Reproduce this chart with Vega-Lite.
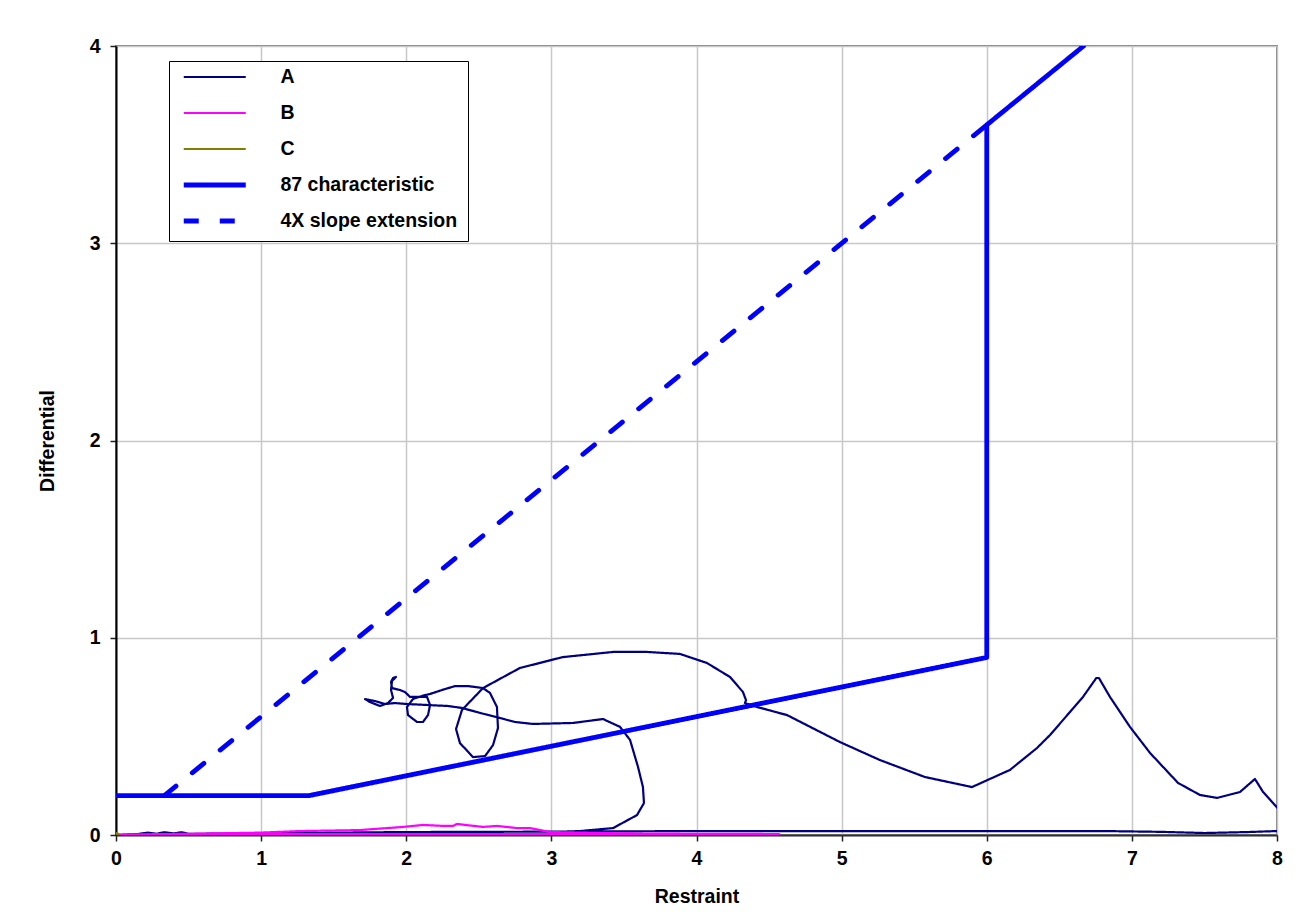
{
  "$schema": "https://vega.github.io/schema/vega-lite/v6.json",
  "width": 1161,
  "height": 789,
  "autosize": {"type": "none"},
  "padding": {"left": 116, "top": 46, "right": 27, "bottom": 77},
  "background": "white",
  "config": {
    "font": "Liberation Sans",
    "view": {"stroke": "#808080", "strokeWidth": 2},
    "axis": {
      "labelFont": "Liberation Sans",
      "labelFontSize": 19.5,
      "labelFontWeight": "bold",
      "labelColor": "black",
      "titleFont": "Liberation Sans",
      "titleFontSize": 19.5,
      "titleFontWeight": "bold",
      "titleColor": "black",
      "tickColor": "#202020",
      "tickSize": 6,
      "tickWidth": 1.5,
      "gridColor": "#c8c8c8",
      "gridWidth": 1.5,
      "domainWidth": 2,
      "labelFlush": false,
      "labelOverlap": false,
      "format": "d"
    }
  },
  "datasets": {
    "traces": [
      {"series": "A", "restraint": 0, "differential": 0},
      {"series": "A", "restraint": 0.15, "differential": 0.005},
      {"series": "A", "restraint": 0.22, "differential": 0.012},
      {"series": "A", "restraint": 0.28, "differential": 0.006},
      {"series": "A", "restraint": 0.33, "differential": 0.014},
      {"series": "A", "restraint": 0.4, "differential": 0.008},
      {"series": "A", "restraint": 0.45, "differential": 0.014},
      {"series": "A", "restraint": 0.5, "differential": 0.006},
      {"series": "A", "restraint": 1.0, "differential": 0.008},
      {"series": "A", "restraint": 1.5, "differential": 0.012},
      {"series": "A", "restraint": 2.0, "differential": 0.015},
      {"series": "A", "restraint": 3.0, "differential": 0.017},
      {"series": "A", "restraint": 4.0, "differential": 0.02},
      {"series": "A", "restraint": 5.0, "differential": 0.02},
      {"series": "A", "restraint": 6.0, "differential": 0.02},
      {"series": "A", "restraint": 6.8, "differential": 0.02},
      {"series": "A", "restraint": 7.2, "differential": 0.016},
      {"series": "A", "restraint": 7.5, "differential": 0.01},
      {"series": "A", "restraint": 7.8, "differential": 0.015},
      {"series": "A", "restraint": 8.0, "differential": 0.02},
      {"series": "A", "restraint": 8.3, "differential": 0.02},
      {"series": "A", "restraint": 8.25, "differential": -0.05},
      {"series": "A", "restraint": 8.0, "differential": 0.14},
      {"series": "A", "restraint": 7.904, "differential": 0.218},
      {"series": "A", "restraint": 7.848, "differential": 0.284},
      {"series": "A", "restraint": 7.745, "differential": 0.218},
      {"series": "A", "restraint": 7.587, "differential": 0.188},
      {"series": "A", "restraint": 7.469, "differential": 0.203},
      {"series": "A", "restraint": 7.318, "differential": 0.264},
      {"series": "A", "restraint": 7.125, "differential": 0.416},
      {"series": "A", "restraint": 6.987, "differential": 0.548},
      {"series": "A", "restraint": 6.849, "differential": 0.7},
      {"series": "A", "restraint": 6.773, "differential": 0.796},
      {"series": "A", "restraint": 6.755, "differential": 0.796},
      {"series": "A", "restraint": 6.663, "differential": 0.7},
      {"series": "A", "restraint": 6.574, "differential": 0.624},
      {"series": "A", "restraint": 6.436, "differential": 0.507},
      {"series": "A", "restraint": 6.346, "differential": 0.441},
      {"series": "A", "restraint": 6.16, "differential": 0.33},
      {"series": "A", "restraint": 5.898, "differential": 0.243},
      {"series": "A", "restraint": 5.574, "differential": 0.294},
      {"series": "A", "restraint": 5.264, "differential": 0.38},
      {"series": "A", "restraint": 4.989, "differential": 0.471},
      {"series": "A", "restraint": 4.624, "differential": 0.608},
      {"series": "A", "restraint": 4.417, "differential": 0.649},
      {"series": "A", "restraint": 4.334, "differential": 0.669},
      {"series": "A", "restraint": 4.341, "differential": 0.684},
      {"series": "A", "restraint": 4.32, "differential": 0.725},
      {"series": "A", "restraint": 4.231, "differential": 0.801},
      {"series": "A", "restraint": 4.072, "differential": 0.872},
      {"series": "A", "restraint": 3.886, "differential": 0.918},
      {"series": "A", "restraint": 3.659, "differential": 0.928},
      {"series": "A", "restraint": 3.425, "differential": 0.928},
      {"series": "A", "restraint": 3.08, "differential": 0.902},
      {"series": "A", "restraint": 2.784, "differential": 0.847},
      {"series": "A", "restraint": 2.529, "differential": 0.745},
      {"series": "A", "restraint": 2.384, "differential": 0.634},
      {"series": "A", "restraint": 2.343, "differential": 0.537},
      {"series": "A", "restraint": 2.37, "differential": 0.466},
      {"series": "A", "restraint": 2.46, "differential": 0.395},
      {"series": "A", "restraint": 2.543, "differential": 0.4},
      {"series": "A", "restraint": 2.598, "differential": 0.456},
      {"series": "A", "restraint": 2.632, "differential": 0.542},
      {"series": "A", "restraint": 2.625, "differential": 0.649},
      {"series": "A", "restraint": 2.577, "differential": 0.72},
      {"series": "A", "restraint": 2.529, "differential": 0.745},
      {"series": "A", "restraint": 2.426, "differential": 0.755},
      {"series": "A", "restraint": 2.336, "differential": 0.755},
      {"series": "A", "restraint": 2.246, "differential": 0.735},
      {"series": "A", "restraint": 2.164, "differential": 0.715},
      {"series": "A", "restraint": 2.109, "differential": 0.705},
      {"series": "A", "restraint": 2.047, "differential": 0.69},
      {"series": "A", "restraint": 2.005, "differential": 0.649},
      {"series": "A", "restraint": 2.012, "differential": 0.608},
      {"series": "A", "restraint": 2.074, "differential": 0.573},
      {"series": "A", "restraint": 2.115, "differential": 0.573},
      {"series": "A", "restraint": 2.15, "differential": 0.608},
      {"series": "A", "restraint": 2.164, "differential": 0.659},
      {"series": "A", "restraint": 2.143, "differential": 0.7},
      {"series": "A", "restraint": 2.081, "differential": 0.7},
      {"series": "A", "restraint": 2.026, "differential": 0.7},
      {"series": "A", "restraint": 1.991, "differential": 0.725},
      {"series": "A", "restraint": 1.957, "differential": 0.735},
      {"series": "A", "restraint": 1.902, "differential": 0.745},
      {"series": "A", "restraint": 1.895, "differential": 0.776},
      {"series": "A", "restraint": 1.909, "differential": 0.796},
      {"series": "A", "restraint": 1.929, "differential": 0.801},
      {"series": "A", "restraint": 1.902, "differential": 0.781},
      {"series": "A", "restraint": 1.895, "differential": 0.735},
      {"series": "A", "restraint": 1.909, "differential": 0.695},
      {"series": "A", "restraint": 1.874, "differential": 0.669},
      {"series": "A", "restraint": 1.819, "differential": 0.654},
      {"series": "A", "restraint": 1.75, "differential": 0.674},
      {"series": "A", "restraint": 1.716, "differential": 0.689},
      {"series": "A", "restraint": 1.785, "differential": 0.679},
      {"series": "A", "restraint": 1.854, "differential": 0.664},
      {"series": "A", "restraint": 1.922, "differential": 0.669},
      {"series": "A", "restraint": 2.005, "differential": 0.664},
      {"series": "A", "restraint": 2.288, "differential": 0.654},
      {"series": "A", "restraint": 2.384, "differential": 0.644},
      {"series": "A", "restraint": 2.508, "differential": 0.619},
      {"series": "A", "restraint": 2.646, "differential": 0.593},
      {"series": "A", "restraint": 2.749, "differential": 0.573},
      {"series": "A", "restraint": 2.873, "differential": 0.563},
      {"series": "A", "restraint": 3.149, "differential": 0.568},
      {"series": "A", "restraint": 3.356, "differential": 0.588},
      {"series": "A", "restraint": 3.473, "differential": 0.548},
      {"series": "A", "restraint": 3.542, "differential": 0.482},
      {"series": "A", "restraint": 3.597, "differential": 0.345},
      {"series": "A", "restraint": 3.631, "differential": 0.243},
      {"series": "A", "restraint": 3.638, "differential": 0.162},
      {"series": "A", "restraint": 3.59, "differential": 0.101},
      {"series": "A", "restraint": 3.425, "differential": 0.035},
      {"series": "A", "restraint": 3.197, "differential": 0.02},
      {"series": "A", "restraint": 2.99, "differential": 0.015},
      {"series": "B", "restraint": 0, "differential": 0.002},
      {"series": "B", "restraint": 0.5, "differential": 0.006},
      {"series": "B", "restraint": 0.99, "differential": 0.012},
      {"series": "B", "restraint": 1.27, "differential": 0.02},
      {"series": "B", "restraint": 1.68, "differential": 0.025},
      {"series": "B", "restraint": 1.98, "differential": 0.041},
      {"series": "B", "restraint": 2.115, "differential": 0.051},
      {"series": "B", "restraint": 2.253, "differential": 0.046},
      {"series": "B", "restraint": 2.322, "differential": 0.046},
      {"series": "B", "restraint": 2.35, "differential": 0.056},
      {"series": "B", "restraint": 2.405, "differential": 0.051},
      {"series": "B", "restraint": 2.529, "differential": 0.041},
      {"series": "B", "restraint": 2.625, "differential": 0.046},
      {"series": "B", "restraint": 2.763, "differential": 0.035},
      {"series": "B", "restraint": 2.853, "differential": 0.035},
      {"series": "B", "restraint": 2.99, "differential": 0.015},
      {"series": "B", "restraint": 3.5, "differential": 0.008},
      {"series": "B", "restraint": 4.0, "differential": 0.006},
      {"series": "B", "restraint": 4.57, "differential": 0.005},
      {"series": "B", "restraint": 3.0, "differential": 0.004},
      {"series": "B", "restraint": 2.0, "differential": 0.005},
      {"series": "B", "restraint": 1.0, "differential": 0.004},
      {"series": "B", "restraint": 0, "differential": 0.002},
      {"series": "C", "restraint": 0, "differential": 0},
      {"series": "C", "restraint": 0.015, "differential": 0.005},
      {"series": "C", "restraint": 0.005, "differential": 0.01},
      {"series": "C", "restraint": 0, "differential": 0}
    ],
    "characteristic": [
      {"series": "87 characteristic", "restraint": 0, "differential": 0.2},
      {"series": "87 characteristic", "restraint": 1.333, "differential": 0.2},
      {"series": "87 characteristic", "restraint": 6.0, "differential": 0.9},
      {"series": "87 characteristic", "restraint": 6.0, "differential": 3.6},
      {"series": "87 characteristic", "restraint": 6.667, "differential": 4.0},
      {"series": "4X slope extension", "restraint": 0.333, "differential": 0.2},
      {"series": "4X slope extension", "restraint": 6.0, "differential": 3.6}
    ]
  },
  "encoding": {
    "x": {
      "field": "restraint",
      "type": "quantitative",
      "scale": {"domain": [0, 8], "nice": false, "zero": false},
      "axis": {"values": [0, 1, 2, 3, 4, 5, 6, 7, 8], "title": "Restraint", "domainColor": "#303030", "labelPadding": 8, "titlePadding": 20}
    },
    "y": {
      "field": "differential",
      "type": "quantitative",
      "scale": {"domain": [0, 4], "nice": false, "zero": false},
      "axis": {"values": [0, 1, 2, 3, 4], "title": "Differential", "domainColor": "black", "labelPadding": 10, "titlePadding": 32}
    },
    "color": {
      "field": "series",
      "type": "nominal",
      "scale": {
        "domain": ["A", "B", "C", "87 characteristic", "4X slope extension"],
        "range": ["#000080", "#FF00FF", "#808000", "#0000FF", "#0000FF"]
      },
      "legend": {
        "title": null,
        "orient": "none",
        "legendX": 53,
        "legendY": 15,
        "symbolType": "stroke",
        "symbolSize": 3844,
        "symbolOffset": 26,
        "clipHeight": 12,
        "rowPadding": 16,
        "labelFont": "Liberation Sans",
        "labelFontSize": 19.5,
        "labelFontWeight": "bold",
        "labelColor": "black",
        "labelOffset": 56,
        "labelLimit": 0,
        "padding": 10,
        "strokeColor": "black",
        "fillColor": "white",
        "encode": {
          "symbols": {
            "update": {
              "size": {"value": 3844},
              "strokeWidth": {"signal": "datum.value === '87 characteristic' || datum.value === '4X slope extension' ? 4.8 : 2.2"}
            }
          }
        }
      }
    },
    "strokeDash": {
      "field": "series",
      "type": "nominal",
      "scale": {
        "domain": ["A", "B", "C", "87 characteristic", "4X slope extension"],
        "range": [[1, 0], [1, 0], [1, 0], [1, 0], [15, 21]]
      }
    },
    "order": {"value": null}
  },
  "layer": [
    {
      "data": {"values": [{}]},
      "mark": {"type": "rect", "fillOpacity": 0, "stroke": "black", "strokeWidth": 3, "clip": false},
      "encoding": {
        "x": {"datum": -0.744, "type": "quantitative"},
        "x2": {"datum": 9.6},
        "y": {"datum": 4.193, "type": "quantitative"},
        "y2": {"datum": -0.6},
        "color": null,
        "strokeDash": null,
        "order": null
      }
    },
    {
      "data": {"name": "traces"},
      "mark": {"type": "line", "clip": true, "strokeCap": "round", "strokeJoin": "round", "strokeWidth": 2.2}
    },
    {
      "data": {"name": "characteristic"},
      "mark": {"type": "line", "clip": true, "strokeCap": "round", "strokeJoin": "round", "strokeWidth": 4.8}
    }
  ]
}
